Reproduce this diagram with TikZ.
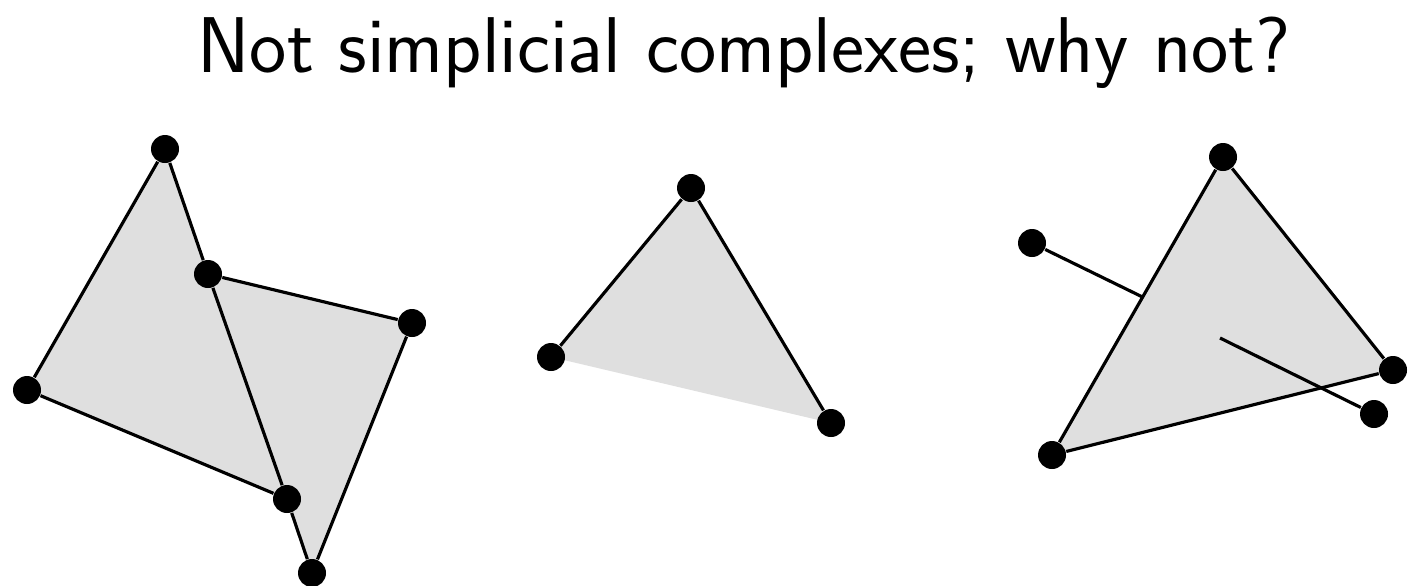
\documentclass[tikz,border=0pt]{standalone}
\usetikzlibrary{backgrounds,calc}

\begin{document}
\begin{tikzpicture}[
  vtx/.style={circle,fill=black,inner sep=0pt,minimum size=2.8mm},
  edge/.style={line width=0.9pt},
  face/.style={fill=cFace}]

% colors
\colorlet{cFace}{gray!25}

\useasboundingbox (0,0) rectangle (14.27,5.85);

% title
\node[anchor=base,font=\sffamily\fontsize{22.5}{27}\selectfont] (title)
  at (7.44,5.13) {Not simplicial complexes; why not?};

% two triangles glued along part of an edge
\node[vtx] (a) at (1.65,4.36) {};
\node[vtx] (b) at (2.08,3.11) {};
\node[vtx] (c) at (4.12,2.62) {};
\node[vtx] (d) at (0.27,1.95) {};
\node[vtx] (e) at (2.87,0.86) {};
\node[vtx] (f) at (3.12,0.12) {};
\draw[edge] (a) -- (d) -- (e);
\draw[edge] (a) -- (b) -- (e) -- (f);
\draw[edge] (b) -- (c) -- (f);

% triangle with one edge missing
\node[vtx] (g) at (6.91,3.97) {};
\node[vtx] (h) at (5.51,2.28) {};
\node[vtx] (i) at (8.31,1.62) {};
\draw[edge] (h) -- (g) -- (i);

% triangle pierced by loose segments
\node[vtx] (j) at (12.23,4.28) {};
\node[vtx] (k) at (10.52,1.30) {};
\node[vtx] (l) at (13.93,2.15) {};
\node[vtx] (m) at (10.32,3.42) {};
\node[vtx] (n) at (13.74,1.71) {};
\coordinate (mEnd) at ($(j)!0.47!(k)$);
\coordinate (nStart) at (12.20,2.47);
\draw[edge] (j) -- (k) -- (l) -- (j);
\draw[edge] (m) -- (mEnd);
\draw[edge] (nStart) -- (n);

% shaded faces
\begin{scope}[on background layer]
  \fill[face] (a.center) -- (d.center) -- (e.center) -- cycle;
  \fill[face] (b.center) -- (c.center) -- (f.center) -- cycle;
  \fill[face] (g.center) -- (h.center) -- (i.center) -- cycle;
  \fill[face] (j.center) -- (k.center) -- (l.center) -- cycle;
\end{scope}

\end{tikzpicture}
\end{document}
